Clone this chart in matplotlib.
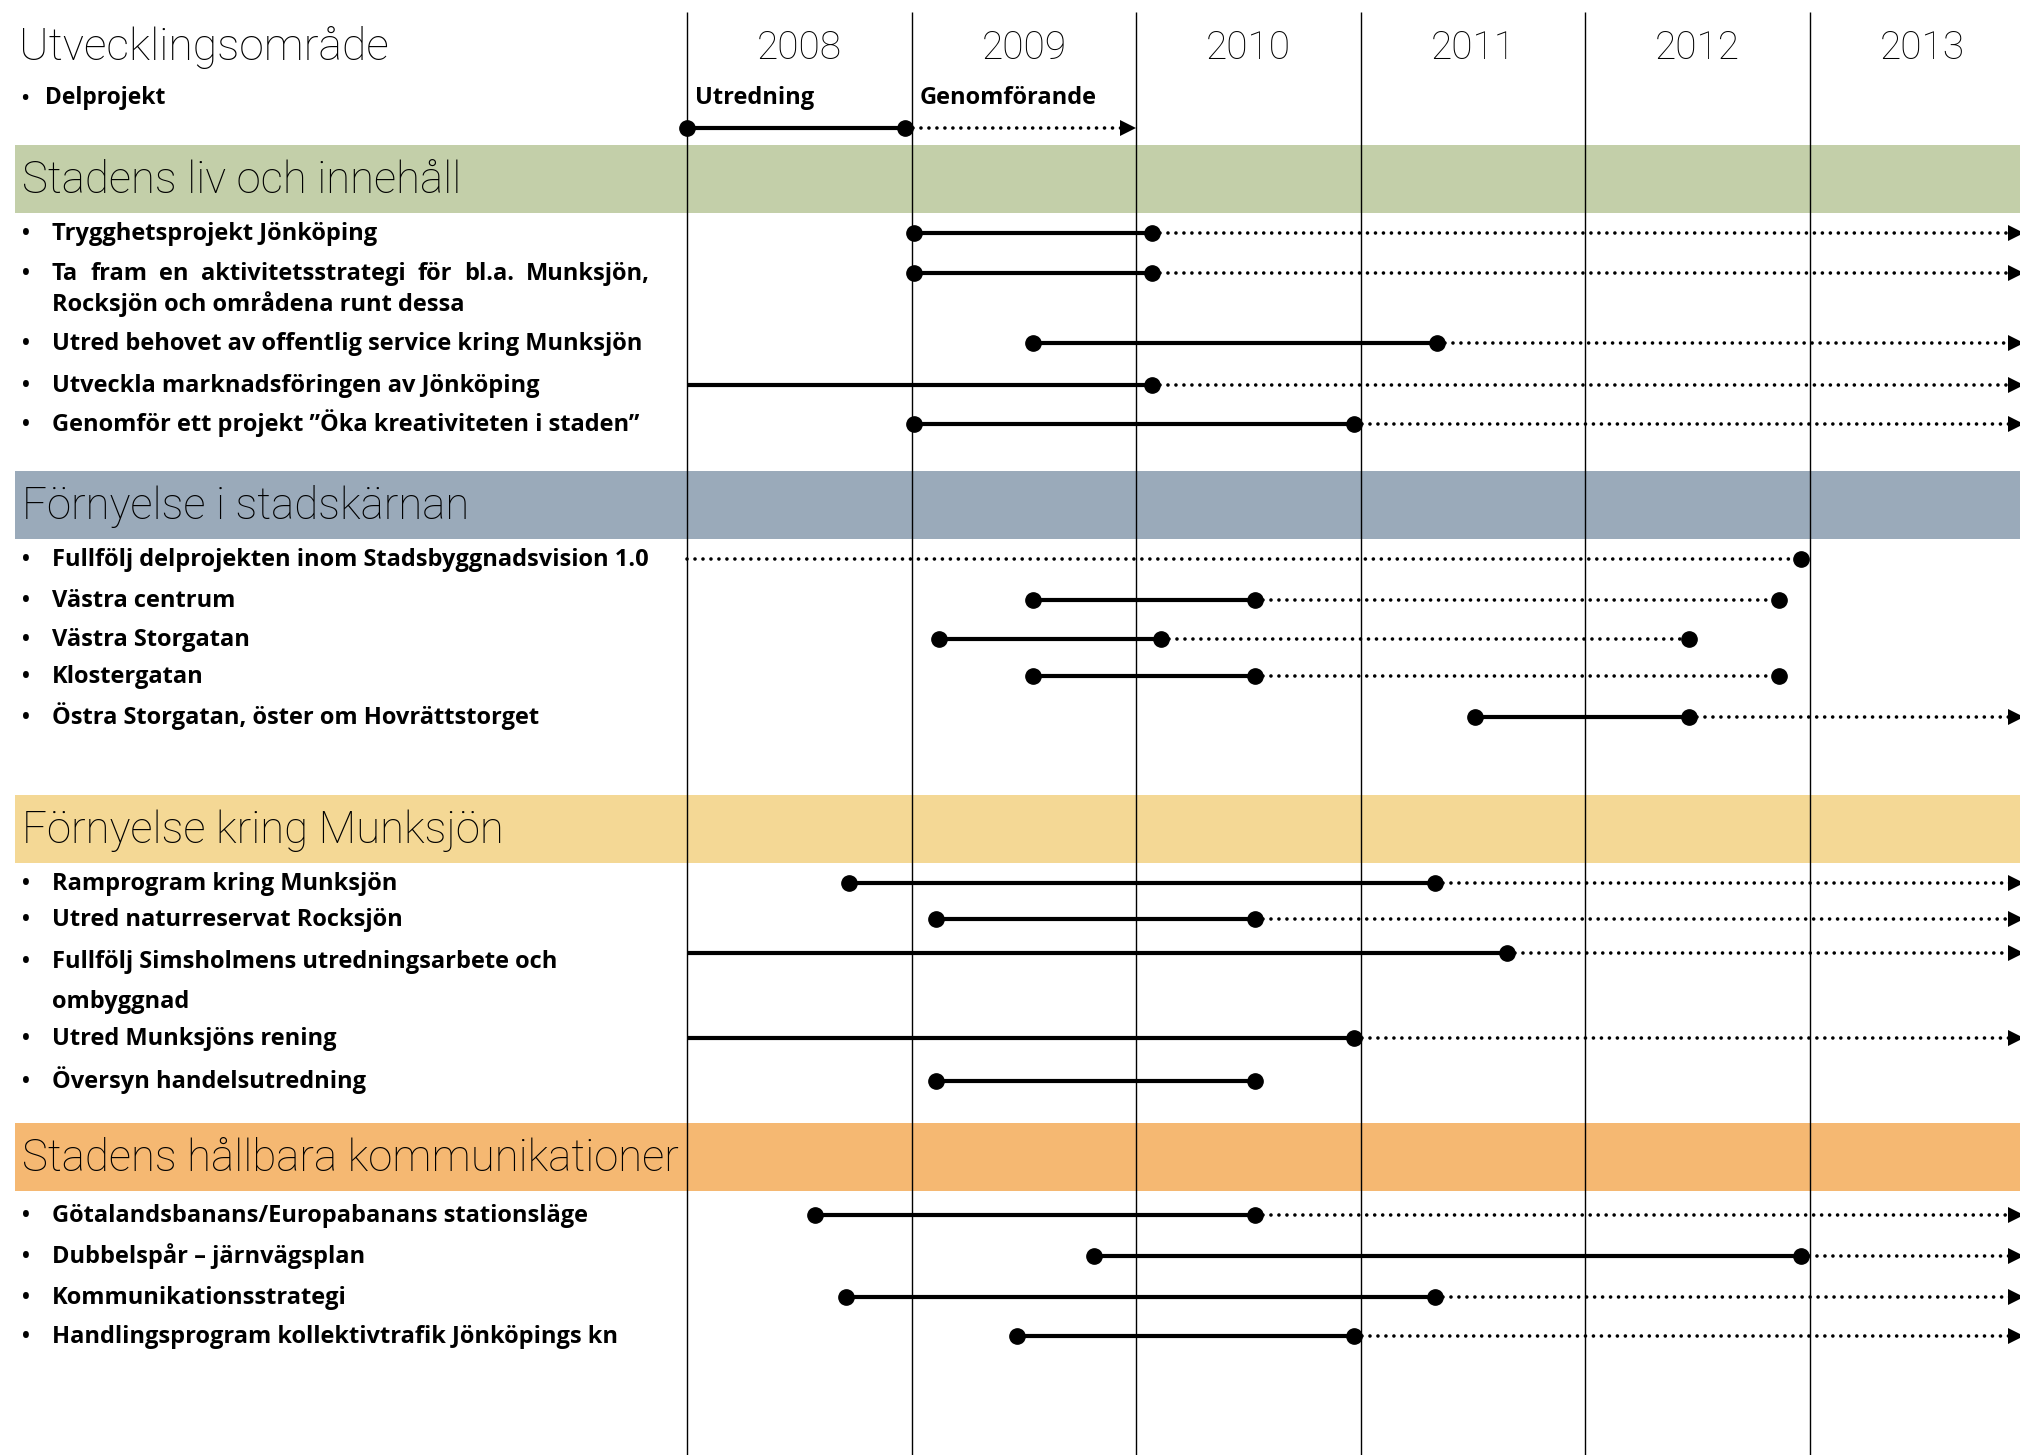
import numpy as np
import matplotlib
matplotlib.use("Agg")
import matplotlib.pyplot as plt
from matplotlib.transforms import Affine2D

# ==========================================
# DATA
# ==========================================
YEARS = [2008, 2009, 2010, 2011, 2012, 2013]
TITLE = "Utvecklingsområde"
SUBTITLE = "Delprojekt"
PHASES = ["Utredning", "Genomförande"]
# legend example: utredning start/end, genomförande end (arrow tip)
LEGEND_SPAN = [2008.0, 2008.97, 2010.0]

SECTIONS = [
    "Stadens liv och innehåll",
    "Förnyelse i stadskärnan",
    "Förnyelse kring Munksjön",
    "Stadens hållbara kommunikationer",
]
SECTION_COLORS = ["#c3cfa9", "#9aaaba", "#f4d895", "#f5b872"]

ITEMS = [
    "Trygghetsprojekt Jönköping",
    "Ta fram en aktivitetsstrategi för bl.a. Munksjön,\nRocksjön och områdena runt dessa",
    "Utred behovet av offentlig service kring Munksjön",
    "Utveckla marknadsföringen av Jönköping",
    "Genomför ett projekt ”Öka kreativiteten i staden”",
    "Fullfölj delprojekten inom Stadsbyggnadsvision 1.0",
    "Västra centrum",
    "Västra Storgatan",
    "Klostergatan",
    "Östra Storgatan, öster om Hovrättstorget",
    "Ramprogram kring Munksjön",
    "Utred naturreservat Rocksjön",
    "Fullfölj Simsholmens utredningsarbete och\nombyggnad",
    "Utred Munksjöns rening",
    "Översyn handelsutredning",
    "Götalandsbanans/Europabanans stationsläge",
    "Dubbelspår – järnvägsplan",
    "Kommunikationsstrategi",
    "Handlingsprogram kollektivtrafik Jönköpings kn",
]
NAN = np.nan
INF = np.inf
# solid part (Utredning); nan = no utredning phase
UTRED_START = [2009.01, 2009.01, 2009.54, 2008.0, 2009.01,
               NAN, 2009.54, 2009.12, 2009.54, 2011.51,
               2008.72, 2009.11, 2008.0, 2008.0, 2009.11,
               2008.57, 2009.81, 2008.71, 2009.47]
UTRED_END = [2010.07, 2010.07, 2011.34, 2010.07, 2010.97,
             NAN, 2010.53, 2010.11, 2010.53, 2012.46,
             2011.33, 2010.53, 2011.65, 2010.97, 2010.53,
             2010.53, 2012.96, 2011.33, 2010.97]
# dotted part (Genomförande); inf = continues past 2013, nan = none
GENOMF_END = [INF, INF, INF, INF, INF,
              2012.96, 2012.86, 2012.46, 2012.86, INF,
              INF, INF, INF, INF, NAN,
              INF, INF, INF, INF]

# ==========================================
# LAYOUT (pixels, from top-left)
# ==========================================
W, H = 2020, 1455
X2008 = 687.0      # pixel x of the 2008 line
YEAR_W = 224.6     # pixels per year
ROW_Y = [233, 273, 343, 385, 424,
         559, 600, 639, 676, 717,
         883, 919, 953, 1038, 1081,
         1215, 1256, 1297, 1336]
LABEL_DY = {12: 8}
LINE_GAP = {1: 31, 12: 40}
JUSTIFY_RIGHT = {1: 650}   # first label line justified to this x
BAND_TOP = [145, 471, 795, 1123]
BAND_H = 68

LIGHT = ["Roboto", "DejaVu Sans"]
BOLD = ["Open Sans", "DejaVu Sans"]
ITEM_FS = 17

fig = plt.figure(figsize=(W / 100, H / 100), dpi=100)
fig.patch.set_facecolor("white")
ax = fig.add_axes([0, 0, 1, 1])
x0 = 2008 - X2008 / YEAR_W
x1 = 2008 + (W - X2008) / YEAR_W
ax.set_xlim(x0, x1)
ax.set_ylim(H, 0)
ax.axis("off")
renderer = fig.canvas.get_renderer()

# pixel transform for text and bands
PIX = Affine2D().scale(1 / W, -1 / H).translate(0, 1) + fig.transFigure


def justified(text, x_left, x_right, y, **kw):
  """Places the words of one line so they fill x_left..x_right."""
  words = text.split(" ")
  objs = [fig.text(0, y, w, transform=PIX, **kw) for w in words]
  widths = [t.get_window_extent(renderer).width for t in objs]
  gap = (x_right - x_left - sum(widths)) / (len(words) - 1)
  x = x_left
  for t, w in zip(objs, widths):
    t.set_x(x)
    x += w + gap


# section bands
for top, name, col in zip(BAND_TOP, SECTIONS, SECTION_COLORS):
  ax.add_patch(plt.Rectangle((15, top), W, BAND_H, transform=PIX,
                             facecolor=col, edgecolor="none", zorder=0))
  fig.text(22, top + 48, name, transform=PIX, fontsize=31.5,
           family=LIGHT, weight="light", va="baseline")

# year grid
ax.vlines(YEARS, 12, H, color="black", lw=1.0, zorder=1)
for yr in YEARS:
  ax.text(yr + 0.5, 59, str(yr), fontsize=28, family=LIGHT, weight="light",
          ha="center", va="baseline")

fig.text(19, 60, TITLE, transform=PIX, fontsize=32, family=LIGHT,
         weight="light", va="baseline")
fig.text(25, 104, "•", transform=PIX, fontsize=14, family=BOLD,
         weight="bold", ha="center", va="baseline")
fig.text(45, 104, SUBTITLE, transform=PIX, fontsize=16.5, family=BOLD,
         weight="bold", va="baseline")
for yr, ph in zip(YEARS[:2], PHASES):
  ax.text(yr + 8 / YEAR_W, 104, ph, fontsize=ITEM_FS, family=BOLD,
          weight="bold", va="baseline")

SOLID = dict(color="black", lw=3.0, solid_capstyle="butt", zorder=3)
DOTTED = dict(color="black", lw=2.6, ls=(0, (0.01, 2.2)),
              dash_capstyle="round", zorder=3)
DOT = dict(marker="o", ms=11, color="black", ls="none", zorder=4)
ARROW = dict(marker=">", ms=11.5, color="black", ls="none", zorder=4,
             markeredgewidth=0)
half_tri = 8 / YEAR_W

# legend
ly = 127.5
s, e, g = LEGEND_SPAN
ax.plot([s, e], [ly, ly], **SOLID)
ax.plot([e, g - half_tri], [ly, ly], **DOTTED)
ax.plot([s, e], [ly, ly], **DOT)
ax.plot([g - half_tri], [ly], **ARROW)

arrow_x = x1 - 4 / YEAR_W
for i, label in enumerate(ITEMS):
  y = ROW_Y[i]
  ty = y + LABEL_DY.get(i, 0) + 7
  lines = label.split("\n")
  fig.text(26, ty, "•", transform=PIX, fontsize=15, family=BOLD,
           weight="bold", ha="center", va="baseline")
  for k, ln in enumerate(lines):
    ly_k = ty + k * LINE_GAP.get(i, 0)
    if k == 0 and i in JUSTIFY_RIGHT:
      justified(ln, 52, JUSTIFY_RIGHT[i], ly_k, fontsize=ITEM_FS,
                family=BOLD, weight="bold", va="baseline")
    else:
      fig.text(52, ly_k, ln, transform=PIX, fontsize=ITEM_FS, family=BOLD,
               weight="bold", va="baseline")

  us, ue, ge = UTRED_START[i], UTRED_END[i], GENOMF_END[i]
  dots = []
  if not np.isnan(us):
    ax.plot([us, ue], [y, y], **SOLID)
    if us > YEARS[0]:
      dots.append(us)
    dots.append(ue)
    dot_start = ue
  else:
    dot_start = YEARS[0]
  if np.isinf(ge):
    ax.plot([dot_start, arrow_x], [y, y], **DOTTED)
    ax.plot([arrow_x], [y], **ARROW)
  elif not np.isnan(ge):
    ax.plot([dot_start, ge], [y, y], **DOTTED)
    dots.append(ge)
  if dots:
    ax.plot(dots, [y] * len(dots), **DOT)

fig.savefig("out.png", dpi=100, facecolor="white")
